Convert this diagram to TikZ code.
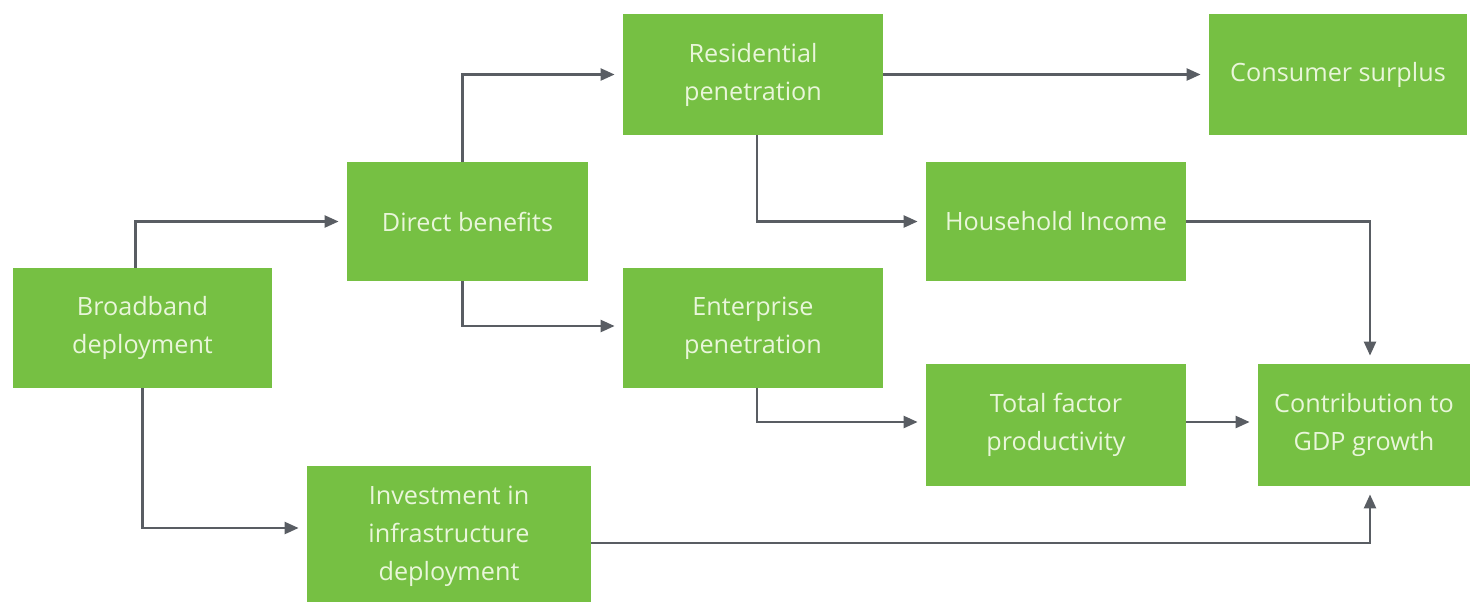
\documentclass[tikz,border=0pt]{standalone}
\usepackage{fontspec}
\setmainfont{Open Sans}
\usetikzlibrary{arrows.meta}
\definecolor{boxgreen}{HTML}{76C043}
\definecolor{boxtext}{HTML}{E9F6DA}
\definecolor{linegray}{HTML}{595D63}
\begin{document}
\begin{tikzpicture}[x=0.5pt, y=-0.5pt,
    every node/.style = {shape=rectangle, fill=boxgreen, text=boxtext,
    align=center, inner sep=0pt,
    font=\fontsize{12.6}{19}\selectfont},
    flow/.style = {draw=linegray, line width=1.2pt,
    -{Triangle[length=7pt,width=6pt]}, shorten >=4pt}]
\useasboundingbox (0,0) rectangle (1470,601);
% boxes
\node[minimum width=129.5pt, minimum height=60pt] (bb) at (142.5,328) {Broadband\\deployment};
\node[minimum width=120.5pt, minimum height=59.5pt] (direct) at (467.5,221.5) {Direct benefits};
\node[minimum width=130pt, minimum height=60.5pt] (resid) at (753,74.5) {Residential\\penetration};
\node[minimum width=129pt, minimum height=60.5pt] (consumer) at (1338,74.5) {Consumer surplus};
\node[minimum width=130pt, minimum height=59.5pt] (house) at (1056,221.5) {Household Income};
\node[minimum width=130pt, minimum height=60pt] (enter) at (753,328) {Enterprise\\penetration};
\node[minimum width=130pt, minimum height=61pt] (tfp) at (1056,425) {Total factor\\productivity};
\node[minimum width=106pt, minimum height=61pt] (gdp) at (1364,425) {Contribution to\\GDP growth};
\node[minimum width=142pt, minimum height=70pt] (invest) at (449,536) {Investment in\\infrastructure\\deployment};
% connectors
\draw[flow] ([xshift=-3.5pt]bb.north) |- (direct.west);
\draw[flow] (bb.south) |- ([yshift=4pt]invest.west);
\draw[flow] ([xshift=-2.5pt]direct.north) |- (resid.west);
\draw[flow] ([xshift=-2.5pt]direct.south) |- ([yshift=1pt]enter.west);
\draw[flow] (resid.east) -- (consumer.west);
\draw[flow] ([xshift=2pt]resid.south) |- (house.west);
\draw[flow] ([xshift=2pt]enter.south) |- ([yshift=1.5pt]tfp.west);
\draw[flow] (house.east) -| ([xshift=3pt]gdp.north);
\draw[flow] ([yshift=1.5pt]tfp.east) -- ([yshift=1.5pt]gdp.west);
\draw[flow] ([yshift=-3.5pt]invest.east) -| ([xshift=3pt]gdp.south);
\end{tikzpicture}
\end{document}
